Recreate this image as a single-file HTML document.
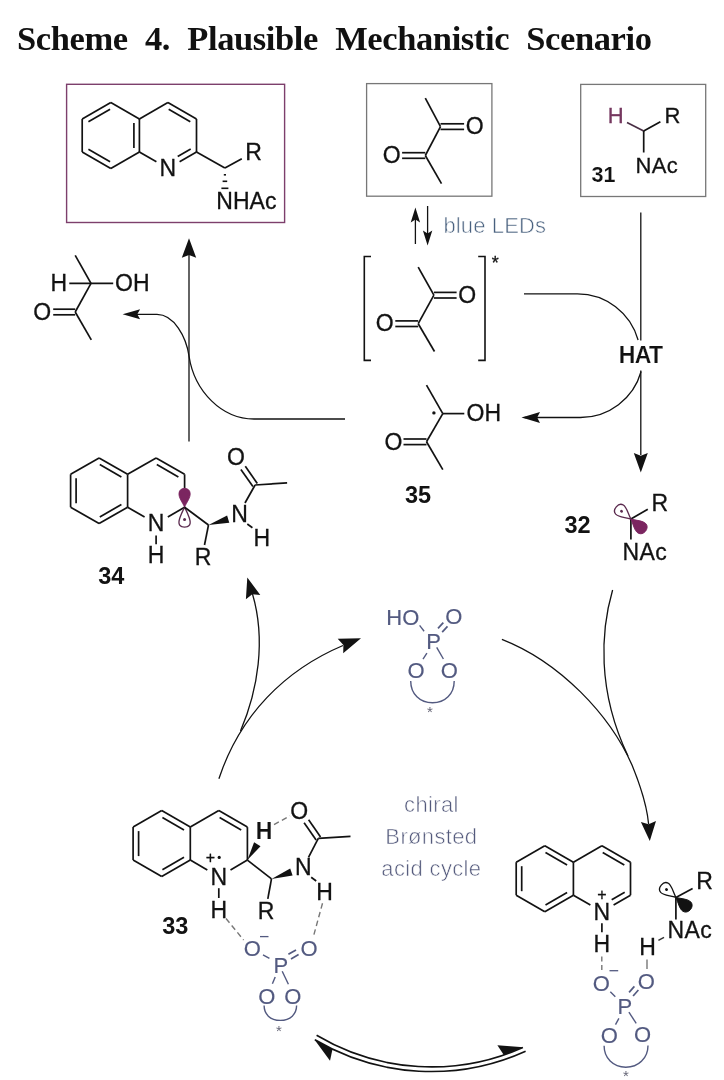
<!DOCTYPE html>
<html><head><meta charset="utf-8"><title>Scheme 4</title>
<style>html,body{margin:0;padding:0;background:#fff}svg{display:block}</style>
</head><body>
<svg width="724" height="1080" viewBox="0 0 724 1080">
<rect width="724" height="1080" fill="#fff"/>
<g opacity="0.999">
<text x="17" y="49.5" font-family="Liberation Serif, serif" font-weight="bold" font-size="34.5" fill="#111" word-spacing="9" textLength="635" lengthAdjust="spacing">Scheme 4. Plausible Mechanistic Scenario</text>
<rect x="66.6" y="84.3" width="218" height="138.2" fill="none" stroke="#7d3f6c" stroke-width="1.4"/>
<rect x="366.6" y="83.6" width="125.3" height="112.6" fill="none" stroke="#777" stroke-width="1.3"/>
<rect x="580.7" y="84.4" width="125" height="112.1" fill="none" stroke="#777" stroke-width="1.3"/>
<line x1="82.2" y1="119.0" x2="110.8" y2="102.5" stroke="#121212" stroke-width="1.7" />
<line x1="110.8" y1="102.5" x2="139.4" y2="119.0" stroke="#121212" stroke-width="1.7" />
<line x1="139.4" y1="119.0" x2="139.4" y2="152.0" stroke="#121212" stroke-width="1.7" />
<line x1="139.4" y1="152.0" x2="110.8" y2="168.5" stroke="#121212" stroke-width="1.7" />
<line x1="110.8" y1="168.5" x2="82.2" y2="152.0" stroke="#121212" stroke-width="1.7" />
<line x1="82.2" y1="152.0" x2="82.2" y2="119.0" stroke="#121212" stroke-width="1.7" />
<line x1="139.4" y1="119.0" x2="167.9" y2="102.5" stroke="#121212" stroke-width="1.7" />
<line x1="167.9" y1="102.5" x2="196.5" y2="119.0" stroke="#121212" stroke-width="1.7" />
<line x1="196.5" y1="119.0" x2="196.5" y2="152.0" stroke="#121212" stroke-width="1.7" />
<line x1="139.4" y1="152.0" x2="156.4" y2="161.8" stroke="#121212" stroke-width="1.7" />
<line x1="196.5" y1="152.0" x2="179.6" y2="161.8" stroke="#121212" stroke-width="1.7" />
<line x1="88.4" y1="121.8" x2="110.1" y2="109.3" stroke="#121212" stroke-width="1.7" />
<line x1="133.9" y1="123.0" x2="133.9" y2="148.0" stroke="#121212" stroke-width="1.7" />
<line x1="88.4" y1="149.2" x2="110.1" y2="161.7" stroke="#121212" stroke-width="1.7" />
<line x1="168.7" y1="109.3" x2="190.3" y2="121.8" stroke="#121212" stroke-width="1.7" />
<line x1="190.7" y1="149.0" x2="177.7" y2="156.5" stroke="#121212" stroke-width="1.7" />
<text x="167.9" y="176.1" font-family="Liberation Sans, sans-serif" font-size="23" fill="#121212" text-anchor="middle" font-weight="normal"  stroke="#121212" stroke-width="0.3">N</text>
<line x1="196.5" y1="152.0" x2="224.9" y2="168.1" stroke="#121212" stroke-width="1.7" />
<line x1="224.9" y1="168.1" x2="241.8" y2="158.7" stroke="#121212" stroke-width="1.7" />
<text x="253.6" y="160.0" font-family="Liberation Sans, sans-serif" font-size="23" fill="#121212" text-anchor="middle" font-weight="normal"  stroke="#121212" stroke-width="0.3">R</text>
<line x1="223.8" y1="174.8" x2="226.0" y2="174.8" stroke="#121212" stroke-width="1.6" />
<line x1="222.6" y1="181.3" x2="227.2" y2="181.3" stroke="#121212" stroke-width="1.6" />
<line x1="221.4" y1="188.3" x2="228.4" y2="188.3" stroke="#121212" stroke-width="1.6" />
<text x="216.2" y="209.1" font-family="Liberation Sans, sans-serif" font-size="23" fill="#121212" text-anchor="start" font-weight="normal" letter-spacing="0.1" stroke="#121212" stroke-width="0.3">NHAc</text>
<line x1="425.3" y1="98.2" x2="440.5" y2="126.6" stroke="#121212" stroke-width="1.7" />
<line x1="440.5" y1="126.6" x2="425.3" y2="155.5" stroke="#121212" stroke-width="1.7" />
<line x1="425.3" y1="155.5" x2="441.5" y2="183.6" stroke="#121212" stroke-width="1.7" />
<line x1="440.5" y1="129.4" x2="464.1" y2="129.4" stroke="#121212" stroke-width="1.7" />
<line x1="440.5" y1="123.8" x2="464.1" y2="123.8" stroke="#121212" stroke-width="1.7" />
<line x1="402.1" y1="158.3" x2="425.3" y2="158.3" stroke="#121212" stroke-width="1.7" />
<line x1="402.1" y1="152.7" x2="425.3" y2="152.7" stroke="#121212" stroke-width="1.7" />
<text x="474.6" y="134.2" font-family="Liberation Sans, sans-serif" font-size="23" fill="#121212" text-anchor="middle" font-weight="normal"  stroke="#121212" stroke-width="0.3">O</text>
<text x="391.6" y="163.1" font-family="Liberation Sans, sans-serif" font-size="23" fill="#121212" text-anchor="middle" font-weight="normal"  stroke="#121212" stroke-width="0.3">O</text>
<line x1="418.2" y1="267.1" x2="433.9" y2="295.2" stroke="#121212" stroke-width="1.7" />
<line x1="433.9" y1="295.2" x2="418.2" y2="323.7" stroke="#121212" stroke-width="1.7" />
<line x1="418.2" y1="323.7" x2="434.5" y2="351.5" stroke="#121212" stroke-width="1.7" />
<line x1="433.9" y1="298.0" x2="456.6" y2="298.0" stroke="#121212" stroke-width="1.7" />
<line x1="433.9" y1="292.4" x2="456.6" y2="292.4" stroke="#121212" stroke-width="1.7" />
<line x1="395.3" y1="326.5" x2="418.2" y2="326.5" stroke="#121212" stroke-width="1.7" />
<line x1="395.3" y1="320.9" x2="418.2" y2="320.9" stroke="#121212" stroke-width="1.7" />
<text x="467.1" y="302.8" font-family="Liberation Sans, sans-serif" font-size="23" fill="#121212" text-anchor="middle" font-weight="normal"  stroke="#121212" stroke-width="0.3">O</text>
<text x="384.8" y="331.3" font-family="Liberation Sans, sans-serif" font-size="23" fill="#121212" text-anchor="middle" font-weight="normal"  stroke="#121212" stroke-width="0.3">O</text>
<path d="M371,256.5 L364.3,256.5 L364.3,360.4 L371,360.4" stroke="#121212" stroke-width="1.6" fill="none" />
<path d="M478.2,256.5 L485,256.5 L485,360.4 L478.2,360.4" stroke="#121212" stroke-width="1.6" fill="none" />
<text x="495.2" y="269.0" font-family="Liberation Sans, sans-serif" font-size="18" fill="#121212" text-anchor="middle" font-weight="normal"  stroke="#121212" stroke-width="0.3">*</text>
<line x1="415.4" y1="244.0" x2="415.4" y2="212.0" stroke="#121212" stroke-width="1.3" />
<polygon points="415.4,207.4 420.1,222.4 415.4,219.4 410.7,222.4" fill="#121212"/>
<line x1="427.6" y1="206.0" x2="427.6" y2="240.0" stroke="#121212" stroke-width="1.3" />
<polygon points="427.6,245.4 422.9,230.4 427.6,233.4 432.3,230.4" fill="#121212"/>
<text x="443.4" y="232.7" font-family="Liberation Sans, sans-serif" font-size="22" fill="#48607e" text-anchor="start" font-weight="normal" letter-spacing="0.15" stroke="#fff" stroke-width="0.6">blue LEDs</text>
<line x1="643.7" y1="131.0" x2="627.0" y2="122.6" stroke="#4a2f45" stroke-width="1.7" />
<line x1="643.7" y1="131.0" x2="660.4" y2="121.8" stroke="#121212" stroke-width="1.7" />
<line x1="643.7" y1="131.0" x2="643.7" y2="152.5" stroke="#121212" stroke-width="1.7" />
<text x="615.6" y="122.9" font-family="Liberation Sans, sans-serif" font-size="22" fill="#75375f" text-anchor="middle" font-weight="normal"  stroke="#75375f" stroke-width="0.3">H</text>
<text x="672.5" y="122.9" font-family="Liberation Sans, sans-serif" font-size="22" fill="#121212" text-anchor="middle" font-weight="normal"  stroke="#121212" stroke-width="0.3">R</text>
<text x="635.4" y="172.5" font-family="Liberation Sans, sans-serif" font-size="22" fill="#121212" text-anchor="start" font-weight="normal" letter-spacing="0.4" stroke="#121212" stroke-width="0.3">NAc</text>
<text x="591.5" y="182.2" font-family="Liberation Sans, sans-serif" font-size="21.5" fill="#121212" text-anchor="start" font-weight="bold" stroke="#fff" stroke-width="0.12">31</text>
<line x1="640.8" y1="212.4" x2="640.8" y2="340.6" stroke="#121212" stroke-width="1.3" />
<line x1="640.8" y1="370.5" x2="640.8" y2="455.0" stroke="#121212" stroke-width="1.3" />
<polygon points="640.8,472.4 633.8,452.9 640.8,455.7 647.8,452.9" fill="#121212"/>
<text x="640.6" y="363.3" font-family="Liberation Sans, sans-serif" font-size="23" fill="#121212" text-anchor="middle" font-weight="bold" letter-spacing="-0.6" stroke="#fff" stroke-width="0.15">HAT</text>
<path d="M524.0,293.8 L577.4,293.8 A63,63 0 0 1 638.1,340" stroke="#121212" stroke-width="1.3" fill="none" />
<path d="M641.1,371.5 A63,63 0 0 1 580.4,417.5 L535,417.5" stroke="#121212" stroke-width="1.3" fill="none" />
<polygon points="521.5,417.5 540.0,412.0 537.2,417.5 540.0,423.0" fill="#121212"/>
<line x1="426.5" y1="385.2" x2="442.8" y2="413.6" stroke="#121212" stroke-width="1.7" />
<line x1="442.8" y1="413.6" x2="426.5" y2="441.8" stroke="#121212" stroke-width="1.7" />
<line x1="426.5" y1="441.8" x2="442.8" y2="469.6" stroke="#121212" stroke-width="1.7" />
<line x1="442.8" y1="413.6" x2="464.3" y2="413.6" stroke="#121212" stroke-width="1.7" />
<line x1="403.5" y1="444.6" x2="426.5" y2="444.6" stroke="#121212" stroke-width="1.7" />
<line x1="403.5" y1="439.0" x2="426.5" y2="439.0" stroke="#121212" stroke-width="1.7" />
<text x="393.5" y="449.7" font-family="Liberation Sans, sans-serif" font-size="23" fill="#121212" text-anchor="middle" font-weight="normal"  stroke="#121212" stroke-width="0.3">O</text>
<text x="466.6" y="421.3" font-family="Liberation Sans, sans-serif" font-size="23" fill="#121212" text-anchor="start" font-weight="normal"  stroke="#121212" stroke-width="0.3">OH</text>
<circle cx="433.9" cy="412.9" r="1.7" fill="#121212"/>
<text x="418.0" y="502.5" font-family="Liberation Sans, sans-serif" font-size="23.5" fill="#121212" text-anchor="middle" font-weight="bold" >35</text>
<line x1="75.2" y1="255.4" x2="91.0" y2="283.3" stroke="#121212" stroke-width="1.7" />
<line x1="91.0" y1="283.3" x2="75.2" y2="312.0" stroke="#121212" stroke-width="1.7" />
<line x1="75.2" y1="312.0" x2="91.3" y2="339.9" stroke="#121212" stroke-width="1.7" />
<line x1="69.3" y1="283.3" x2="113.2" y2="283.3" stroke="#121212" stroke-width="1.7" />
<line x1="53.2" y1="314.8" x2="75.2" y2="314.8" stroke="#121212" stroke-width="1.7" />
<line x1="53.2" y1="309.2" x2="75.2" y2="309.2" stroke="#121212" stroke-width="1.7" />
<text x="58.7" y="291.0" font-family="Liberation Sans, sans-serif" font-size="23" fill="#121212" text-anchor="middle" font-weight="normal"  stroke="#121212" stroke-width="0.3">H</text>
<text x="115.0" y="291.0" font-family="Liberation Sans, sans-serif" font-size="23" fill="#121212" text-anchor="start" font-weight="normal"  stroke="#121212" stroke-width="0.3">OH</text>
<text x="42.2" y="319.6" font-family="Liberation Sans, sans-serif" font-size="23" fill="#121212" text-anchor="middle" font-weight="normal"  stroke="#121212" stroke-width="0.3">O</text>
<line x1="189.0" y1="441.5" x2="189.0" y2="252.0" stroke="#121212" stroke-width="1.3" />
<polygon points="189.0,238.3 196.2,257.8 189.0,255.0 181.8,257.8" fill="#121212"/>
<path d="M345,419 L254,419 C222,419 194.4,391.6 189,356 C186.3,337 174,314.3 157,314.3 L136,314.3" stroke="#121212" stroke-width="1.3" fill="none" />
<polygon points="122.6,314.3 140.1,309.3 137.3,314.3 140.1,319.3" fill="#121212"/>
<line x1="70.6" y1="474.3" x2="99.1" y2="457.9" stroke="#121212" stroke-width="1.7" />
<line x1="99.1" y1="457.9" x2="127.6" y2="474.3" stroke="#121212" stroke-width="1.7" />
<line x1="127.6" y1="474.3" x2="127.6" y2="507.2" stroke="#121212" stroke-width="1.7" />
<line x1="127.6" y1="507.2" x2="99.1" y2="523.6" stroke="#121212" stroke-width="1.7" />
<line x1="99.1" y1="523.6" x2="70.6" y2="507.2" stroke="#121212" stroke-width="1.7" />
<line x1="70.6" y1="507.2" x2="70.6" y2="474.3" stroke="#121212" stroke-width="1.7" />
<line x1="127.6" y1="474.3" x2="156.1" y2="457.9" stroke="#121212" stroke-width="1.7" />
<line x1="156.1" y1="457.9" x2="184.6" y2="474.3" stroke="#121212" stroke-width="1.7" />
<line x1="127.6" y1="507.2" x2="144.6" y2="517.0" stroke="#121212" stroke-width="1.7" />
<line x1="184.6" y1="507.2" x2="167.8" y2="516.9" stroke="#121212" stroke-width="1.7" />
<line x1="76.1" y1="478.3" x2="76.1" y2="503.2" stroke="#121212" stroke-width="1.7" />
<line x1="99.8" y1="464.6" x2="121.4" y2="477.1" stroke="#121212" stroke-width="1.7" />
<line x1="121.4" y1="504.4" x2="99.8" y2="516.9" stroke="#121212" stroke-width="1.7" />
<line x1="156.8" y1="464.6" x2="178.4" y2="477.1" stroke="#121212" stroke-width="1.7" />
<line x1="184.6" y1="474.3" x2="184.6" y2="488.3" stroke="#121212" stroke-width="1.7" />
<text x="156.1" y="530.9" font-family="Liberation Sans, sans-serif" font-size="23" fill="#121212" text-anchor="middle" font-weight="normal"  stroke="#121212" stroke-width="0.3">N</text>
<line x1="156.1" y1="535.4" x2="156.1" y2="544.2" stroke="#121212" stroke-width="1.7" />
<text x="156.1" y="563.2" font-family="Liberation Sans, sans-serif" font-size="23" fill="#121212" text-anchor="middle" font-weight="normal"  stroke="#121212" stroke-width="0.3">H</text>
<path d="M184.56894313803213,507.2 C182.56894313803213,502.2 178.56894313803213,498.2 178.96894313803213,493.2 C179.36894313803214,486.7 189.7689431380321,486.7 190.16894313803212,493.2 C190.56894313803213,498.2 186.56894313803213,502.2 184.56894313803213,507.2 Z" stroke="#7b2560" stroke-width="0.8" fill="#7b2560" />
<path d="M184.56894313803213,507.2 C181.06894313803213,514.2 178.36894313803214,519.2 178.96894313803213,523.2 C179.66894313803212,528.4 189.46894313803213,528.4 190.16894313803212,523.2 C190.7689431380321,519.2 188.06894313803213,514.2 184.56894313803213,507.2 Z" stroke="#5a2a4e" stroke-width="1.3" fill="none" />
<circle cx="184.56894313803213" cy="519.5" r="1.5" fill="#5a2a4e"/>
<line x1="184.6" y1="507.2" x2="208.5" y2="525.0" stroke="#121212" stroke-width="1.7" />
<polygon points="208.5,525.0 229.3,522.8 227.1,515.6" fill="#121212"/>
<line x1="208.5" y1="525.0" x2="204.5" y2="545.0" stroke="#121212" stroke-width="1.7" />
<text x="203.0" y="565.0" font-family="Liberation Sans, sans-serif" font-size="23" fill="#121212" text-anchor="middle" font-weight="normal"  stroke="#121212" stroke-width="0.3">R</text>
<text x="239.6" y="521.8" font-family="Liberation Sans, sans-serif" font-size="23" fill="#121212" text-anchor="middle" font-weight="normal"  stroke="#121212" stroke-width="0.3">N</text>
<line x1="245.0" y1="503.0" x2="255.1" y2="485.0" stroke="#121212" stroke-width="1.7" />
<line x1="255.1" y1="485.0" x2="287.1" y2="482.9" stroke="#121212" stroke-width="1.7" />
<line x1="257.3" y1="483.5" x2="245.3" y2="466.3" stroke="#121212" stroke-width="1.7" />
<line x1="252.9" y1="486.5" x2="240.9" y2="469.4" stroke="#121212" stroke-width="1.7" />
<text x="236.0" y="465.3" font-family="Liberation Sans, sans-serif" font-size="23" fill="#121212" text-anchor="middle" font-weight="normal"  stroke="#121212" stroke-width="0.3">O</text>
<line x1="247.3" y1="524.0" x2="252.4" y2="527.8" stroke="#121212" stroke-width="1.7" />
<text x="261.7" y="546.2" font-family="Liberation Sans, sans-serif" font-size="23" fill="#121212" text-anchor="middle" font-weight="normal"  stroke="#121212" stroke-width="0.3">H</text>
<text x="111.2" y="583.7" font-family="Liberation Sans, sans-serif" font-size="23.5" fill="#121212" text-anchor="middle" font-weight="bold" >34</text>
<line x1="630.9" y1="519.1" x2="647.8" y2="509.2" stroke="#121212" stroke-width="1.7" />
<line x1="630.9" y1="519.1" x2="630.9" y2="539.6" stroke="#121212" stroke-width="1.7" />
<text x="659.7" y="510.7" font-family="Liberation Sans, sans-serif" font-size="23" fill="#121212" text-anchor="middle" font-weight="normal"  stroke="#121212" stroke-width="0.3">R</text>
<text x="622.5" y="559.8" font-family="Liberation Sans, sans-serif" font-size="23" fill="#121212" text-anchor="start" font-weight="normal" letter-spacing="0.4" stroke="#121212" stroke-width="0.3">NAc</text>
<text x="577.6" y="533.2" font-family="Liberation Sans, sans-serif" font-size="23.5" fill="#121212" text-anchor="middle" font-weight="bold" >32</text>
<g transform="translate(630.9,519.1) rotate(-50)">
<g transform="scale(0.9)">
<path d="M0,0 C-3,-7 -7.2,-12 -6.6,-16.5 C-5.6,-22.8 5.6,-22.8 6.6,-16.5 C7.2,-12 3,-7 0,0 Z" stroke="#5a2a4e" stroke-width="1.45" fill="none" />
<circle cx="0" cy="-13.6" r="1.6" fill="#5a2a4e"/>
</g>
<g transform="scale(0.9)">
<path d="M0,0 C-2.5,5.5 -7.4,11 -6.8,16 C-5.8,22.8 5.8,22.8 6.8,16 C7.4,11 2.5,5.5 0,0 Z" stroke="#7b2560" stroke-width="1" fill="#7b2560" />
</g></g>
<path d="M501.9,639.3 C560,662 610,715 632,765 C641,787 647,806 648.6,824" stroke="#121212" stroke-width="1.3" fill="none" />
<polygon points="649.8,841.0 640.9,822.1 648.6,824.3 656.0,821.0" fill="#121212"/>
<path d="M612.6,590 C601,630 596.5,690 628,756" stroke="#121212" stroke-width="1.3" fill="none" />
<path d="M218.9,778.8 C240,715 285,670 343,645.5" stroke="#121212" stroke-width="1.3" fill="none" />
<polygon points="361.0,638.2 343.2,653.3 343.4,644.9 337.7,638.8" fill="#121212"/>
<path d="M240.5,731 C258,690 266,640 252.5,594" stroke="#121212" stroke-width="1.3" fill="none" />
<polygon points="247.3,577.4 260.3,594.9 252.3,594.2 245.9,599.2" fill="#121212"/>
<path d="M316.6,1035.3 A224.4,224.4 0 0 0 522.9,1047.4" stroke="#121212" stroke-width="1.6" fill="none" />
<path d="M314.9,1039.8 A229.1,229.1 0 0 0 525.6,1051.2" stroke="#121212" stroke-width="1.6" fill="none" />
<polygon points="497.4,1045.2 523.4,1047.2 503.8,1055.0" fill="#121212"/>
<polygon points="314.4,1039.4 332.5,1049.2 330.0,1060.8" fill="#121212"/>
<text x="433.7" y="648.9" font-family="Liberation Sans, sans-serif" font-size="22" fill="#535a80" text-anchor="middle" font-weight="normal"  stroke="#535a80" stroke-width="0.15">P</text>
<text x="416.1" y="677.9" font-family="Liberation Sans, sans-serif" font-size="22" fill="#535a80" text-anchor="middle" font-weight="normal"  stroke="#535a80" stroke-width="0.15">O</text>
<text x="449.3" y="677.9" font-family="Liberation Sans, sans-serif" font-size="22" fill="#535a80" text-anchor="middle" font-weight="normal"  stroke="#535a80" stroke-width="0.15">O</text>
<text x="453.8" y="623.7" font-family="Liberation Sans, sans-serif" font-size="22" fill="#535a80" text-anchor="middle" font-weight="normal"  stroke="#535a80" stroke-width="0.15">O</text>
<text x="419.3" y="624.6" font-family="Liberation Sans, sans-serif" font-size="22" fill="#535a80" text-anchor="end" font-weight="normal"  stroke="#535a80" stroke-width="0.15">HO</text>
<path d="M410.7,680.9 C410.7,694 420,702.7 432.5,702.7 C445,702.7 454.2,694 454.2,680.9" stroke="#535a80" stroke-width="1.4" fill="none" />
<text x="430.0" y="717.1" font-family="Liberation Sans, sans-serif" font-size="15" fill="#667" text-anchor="middle" font-weight="normal" >*</text>
<line x1="419.6" y1="625.4" x2="424.1" y2="631.2" stroke="#535a80" stroke-width="1.4" />
<line x1="442.2" y1="632.1" x2="447.5" y2="626.4" stroke="#535a80" stroke-width="1.7" />
<line x1="438.0" y1="628.3" x2="443.3" y2="622.6" stroke="#535a80" stroke-width="1.7" />
<line x1="426.9" y1="653.2" x2="423.0" y2="659.2" stroke="#535a80" stroke-width="1.4" />
<line x1="436.7" y1="647.4" x2="443.4" y2="659.0" stroke="#535a80" stroke-width="1.4" />
<line x1="133.1" y1="827.1" x2="161.7" y2="810.6" stroke="#121212" stroke-width="1.7" />
<line x1="161.7" y1="810.6" x2="190.3" y2="827.1" stroke="#121212" stroke-width="1.7" />
<line x1="190.3" y1="827.1" x2="190.3" y2="860.1" stroke="#121212" stroke-width="1.7" />
<line x1="190.3" y1="860.1" x2="161.7" y2="876.6" stroke="#121212" stroke-width="1.7" />
<line x1="161.7" y1="876.6" x2="133.1" y2="860.1" stroke="#121212" stroke-width="1.7" />
<line x1="133.1" y1="860.1" x2="133.1" y2="827.1" stroke="#121212" stroke-width="1.7" />
<line x1="190.3" y1="827.1" x2="218.8" y2="810.6" stroke="#121212" stroke-width="1.7" />
<line x1="218.8" y1="810.6" x2="247.4" y2="827.1" stroke="#121212" stroke-width="1.7" />
<line x1="247.4" y1="827.1" x2="247.4" y2="860.1" stroke="#121212" stroke-width="1.7" />
<line x1="190.3" y1="860.1" x2="207.3" y2="870.0" stroke="#121212" stroke-width="1.7" />
<line x1="247.4" y1="860.1" x2="230.5" y2="869.9" stroke="#121212" stroke-width="1.7" />
<line x1="138.6" y1="831.1" x2="138.6" y2="856.1" stroke="#121212" stroke-width="1.7" />
<line x1="162.4" y1="817.4" x2="184.0" y2="829.9" stroke="#121212" stroke-width="1.7" />
<line x1="184.0" y1="857.3" x2="162.4" y2="869.8" stroke="#121212" stroke-width="1.7" />
<line x1="219.6" y1="817.4" x2="241.2" y2="829.9" stroke="#121212" stroke-width="1.7" />
<text x="218.8" y="884.6" font-family="Liberation Sans, sans-serif" font-size="23" fill="#121212" text-anchor="middle" font-weight="normal"  stroke="#121212" stroke-width="0.3">N</text>
<line x1="218.8" y1="888.2" x2="218.8" y2="898.0" stroke="#121212" stroke-width="1.7" />
<text x="218.8" y="917.6" font-family="Liberation Sans, sans-serif" font-size="23" fill="#121212" text-anchor="middle" font-weight="normal"  stroke="#121212" stroke-width="0.3">H</text>
<text x="210.3" y="862.6" font-family="Liberation Sans, sans-serif" font-size="16" fill="#121212" text-anchor="middle" font-weight="normal"  stroke="#121212" stroke-width="0.3">+</text>
<circle cx="219.2" cy="857.4" r="1.6" fill="#121212"/>
<polygon points="247.4,860.1 260.5,846.2 254.1,842.2" fill="#121212"/>
<text x="264.0" y="839.4" font-family="Liberation Sans, sans-serif" font-size="23" fill="#121212" text-anchor="middle" font-weight="bold" stroke="#fff" stroke-width="0.1">H</text>
<line x1="247.4" y1="860.1" x2="271.5" y2="878.9" stroke="#121212" stroke-width="1.7" />
<polygon points="271.5,878.9 292.6,875.6 290.2,868.6" fill="#121212"/>
<line x1="271.5" y1="878.9" x2="267.8" y2="898.8" stroke="#121212" stroke-width="1.7" />
<text x="266.0" y="919.1" font-family="Liberation Sans, sans-serif" font-size="23" fill="#121212" text-anchor="middle" font-weight="normal"  stroke="#121212" stroke-width="0.3">R</text>
<text x="303.3" y="875.3" font-family="Liberation Sans, sans-serif" font-size="23" fill="#121212" text-anchor="middle" font-weight="normal"  stroke="#121212" stroke-width="0.3">N</text>
<line x1="308.5" y1="857.4" x2="318.3" y2="838.4" stroke="#121212" stroke-width="1.7" />
<line x1="318.3" y1="838.4" x2="350.5" y2="836.4" stroke="#121212" stroke-width="1.7" />
<line x1="320.5" y1="836.9" x2="308.6" y2="819.7" stroke="#121212" stroke-width="1.7" />
<line x1="316.1" y1="839.9" x2="304.1" y2="822.8" stroke="#121212" stroke-width="1.7" />
<text x="299.3" y="818.7" font-family="Liberation Sans, sans-serif" font-size="23" fill="#121212" text-anchor="middle" font-weight="normal"  stroke="#121212" stroke-width="0.3">O</text>
<line x1="311.2" y1="877.3" x2="316.2" y2="881.0" stroke="#121212" stroke-width="1.7" />
<text x="324.6" y="899.9" font-family="Liberation Sans, sans-serif" font-size="23" fill="#121212" text-anchor="middle" font-weight="normal"  stroke="#121212" stroke-width="0.3">H</text>
<text x="175.3" y="933.8" font-family="Liberation Sans, sans-serif" font-size="23.5" fill="#121212" text-anchor="middle" font-weight="bold" >33</text>
<line x1="274.0" y1="824.6" x2="290.0" y2="815.8" stroke="#777" stroke-width="1.4" stroke-dasharray="5.5,3.5"/>
<line x1="226.0" y1="918.5" x2="243.6" y2="940.0" stroke="#777" stroke-width="1.4" stroke-dasharray="5.5,3.5"/>
<line x1="322.5" y1="903.3" x2="313.0" y2="938.0" stroke="#777" stroke-width="1.4" stroke-dasharray="5.5,3.5"/>
<text x="280.9" y="973.1" font-family="Liberation Sans, sans-serif" font-size="22" fill="#535a80" text-anchor="middle" font-weight="normal"  stroke="#535a80" stroke-width="0.15">P</text>
<text x="266.7" y="1004.4" font-family="Liberation Sans, sans-serif" font-size="22" fill="#535a80" text-anchor="middle" font-weight="normal"  stroke="#535a80" stroke-width="0.15">O</text>
<text x="292.8" y="1004.4" font-family="Liberation Sans, sans-serif" font-size="22" fill="#535a80" text-anchor="middle" font-weight="normal"  stroke="#535a80" stroke-width="0.15">O</text>
<text x="309.0" y="956.2" font-family="Liberation Sans, sans-serif" font-size="22" fill="#535a80" text-anchor="middle" font-weight="normal"  stroke="#535a80" stroke-width="0.15">O</text>
<text x="252.4" y="956.2" font-family="Liberation Sans, sans-serif" font-size="22" fill="#535a80" text-anchor="middle" font-weight="normal"  stroke="#535a80" stroke-width="0.15">O</text>
<path d="M264.1,1005.6 C264.1,1014 270,1020.4 280.3,1020.4 C290.5,1020.4 296.6,1014 296.6,1005.6" stroke="#535a80" stroke-width="1.4" fill="none" />
<text x="278.9" y="1036.0" font-family="Liberation Sans, sans-serif" font-size="15" fill="#667" text-anchor="middle" font-weight="normal" >*</text>
<line x1="260.0" y1="936.6" x2="268.5" y2="936.6" stroke="#535a80" stroke-width="1.3" />
<line x1="263.0" y1="954.8" x2="269.4" y2="958.4" stroke="#535a80" stroke-width="1.4" />
<line x1="291.0" y1="958.9" x2="298.6" y2="954.5" stroke="#535a80" stroke-width="1.7" />
<line x1="288.4" y1="954.3" x2="296.0" y2="949.9" stroke="#535a80" stroke-width="1.7" />
<line x1="275.2" y1="977.0" x2="272.4" y2="983.8" stroke="#535a80" stroke-width="1.4" />
<line x1="282.2" y1="971.2" x2="288.4" y2="984.2" stroke="#535a80" stroke-width="1.4" />
<text x="431.4" y="811.9" font-family="Liberation Sans, sans-serif" font-size="22" fill="#545a7c" text-anchor="middle" font-weight="normal" letter-spacing="0.35" stroke="#fff" stroke-width="0.6">chiral</text>
<text x="431.4" y="843.8" font-family="Liberation Sans, sans-serif" font-size="22" fill="#545a7c" text-anchor="middle" font-weight="normal" letter-spacing="0.35" stroke="#fff" stroke-width="0.6">Brønsted</text>
<text x="431.4" y="875.7" font-family="Liberation Sans, sans-serif" font-size="22" fill="#545a7c" text-anchor="middle" font-weight="normal" letter-spacing="0.35" stroke="#fff" stroke-width="0.6">acid cycle</text>
<line x1="516.2" y1="862.2" x2="544.8" y2="845.7" stroke="#121212" stroke-width="1.7" />
<line x1="544.8" y1="845.7" x2="573.4" y2="862.2" stroke="#121212" stroke-width="1.7" />
<line x1="573.4" y1="862.2" x2="573.4" y2="895.2" stroke="#121212" stroke-width="1.7" />
<line x1="573.4" y1="895.2" x2="544.8" y2="911.7" stroke="#121212" stroke-width="1.7" />
<line x1="544.8" y1="911.7" x2="516.2" y2="895.2" stroke="#121212" stroke-width="1.7" />
<line x1="516.2" y1="895.2" x2="516.2" y2="862.2" stroke="#121212" stroke-width="1.7" />
<line x1="573.4" y1="862.2" x2="601.9" y2="845.7" stroke="#121212" stroke-width="1.7" />
<line x1="601.9" y1="845.7" x2="630.5" y2="862.2" stroke="#121212" stroke-width="1.7" />
<line x1="630.5" y1="862.2" x2="630.5" y2="895.2" stroke="#121212" stroke-width="1.7" />
<line x1="573.4" y1="895.2" x2="590.4" y2="905.1" stroke="#121212" stroke-width="1.7" />
<line x1="630.5" y1="895.2" x2="613.6" y2="905.0" stroke="#121212" stroke-width="1.7" />
<line x1="521.7" y1="866.2" x2="521.7" y2="891.2" stroke="#121212" stroke-width="1.7" />
<line x1="545.5" y1="852.5" x2="567.1" y2="865.0" stroke="#121212" stroke-width="1.7" />
<line x1="567.1" y1="892.4" x2="545.5" y2="904.9" stroke="#121212" stroke-width="1.7" />
<line x1="602.7" y1="852.5" x2="624.3" y2="865.0" stroke="#121212" stroke-width="1.7" />
<line x1="624.7" y1="892.2" x2="611.7" y2="899.7" stroke="#121212" stroke-width="1.7" />
<text x="601.9" y="919.5" font-family="Liberation Sans, sans-serif" font-size="23" fill="#121212" text-anchor="middle" font-weight="normal"  stroke="#121212" stroke-width="0.3">N</text>
<line x1="601.9" y1="923.2" x2="601.9" y2="932.2" stroke="#121212" stroke-width="1.7" />
<text x="601.9" y="951.9" font-family="Liberation Sans, sans-serif" font-size="23" fill="#121212" text-anchor="middle" font-weight="normal"  stroke="#121212" stroke-width="0.3">H</text>
<text x="601.9" y="899.8" font-family="Liberation Sans, sans-serif" font-size="16" fill="#121212" text-anchor="middle" font-weight="normal"  stroke="#121212" stroke-width="0.3">+</text>
<line x1="601.8" y1="956.5" x2="601.8" y2="970.5" stroke="#777" stroke-width="1.4" stroke-dasharray="5,3.5"/>
<line x1="675.9" y1="897.4" x2="692.6" y2="888.6" stroke="#121212" stroke-width="1.7" />
<line x1="675.9" y1="897.4" x2="675.9" y2="919.6" stroke="#121212" stroke-width="1.7" />
<text x="704.6" y="888.9" font-family="Liberation Sans, sans-serif" font-size="23" fill="#121212" text-anchor="middle" font-weight="normal"  stroke="#121212" stroke-width="0.3">R</text>
<text x="667.4" y="938.4" font-family="Liberation Sans, sans-serif" font-size="23" fill="#121212" text-anchor="start" font-weight="normal" letter-spacing="0.4" stroke="#121212" stroke-width="0.3">NAc</text>
<g transform="translate(675.9,897.4) rotate(-50)">
<g transform="scale(0.9)">
<path d="M0,0 C-3,-7 -7.2,-12 -6.6,-16.5 C-5.6,-22.8 5.6,-22.8 6.6,-16.5 C7.2,-12 3,-7 0,0 Z" stroke="#121212" stroke-width="1.45" fill="none" />
<circle cx="0" cy="-13.6" r="1.6" fill="#121212"/>
</g>
<g transform="scale(0.9)">
<path d="M0,0 C-2.5,5.5 -7.4,11 -6.8,16 C-5.8,22.8 5.8,22.8 6.8,16 C7.4,11 2.5,5.5 0,0 Z" stroke="#121212" stroke-width="1" fill="#121212" />
</g></g>
<text x="647.6" y="954.5" font-family="Liberation Sans, sans-serif" font-size="23" fill="#121212" text-anchor="middle" font-weight="normal"  stroke="#121212" stroke-width="0.3">H</text>
<line x1="658.4" y1="940.4" x2="664.0" y2="937.4" stroke="#333" stroke-width="1.5" />
<line x1="647.0" y1="959.5" x2="647.0" y2="969.0" stroke="#777" stroke-width="1.4" />
<text x="624.8" y="1014.4" font-family="Liberation Sans, sans-serif" font-size="22" fill="#535a80" text-anchor="middle" font-weight="normal"  stroke="#535a80" stroke-width="0.15">P</text>
<text x="609.3" y="1043.3" font-family="Liberation Sans, sans-serif" font-size="22" fill="#535a80" text-anchor="middle" font-weight="normal"  stroke="#535a80" stroke-width="0.15">O</text>
<text x="642.6" y="1042.4" font-family="Liberation Sans, sans-serif" font-size="22" fill="#535a80" text-anchor="middle" font-weight="normal"  stroke="#535a80" stroke-width="0.15">O</text>
<text x="646.4" y="989.2" font-family="Liberation Sans, sans-serif" font-size="22" fill="#535a80" text-anchor="middle" font-weight="normal"  stroke="#535a80" stroke-width="0.15">O</text>
<text x="601.2" y="991.1" font-family="Liberation Sans, sans-serif" font-size="22" fill="#535a80" text-anchor="middle" font-weight="normal"  stroke="#535a80" stroke-width="0.15">O</text>
<path d="M604.1,1045.8 C604.1,1058 613,1067.2 625.8,1067.2 C638.5,1067.2 648,1058 648,1045.4" stroke="#535a80" stroke-width="1.4" fill="none" />
<text x="625.8" y="1081.2" font-family="Liberation Sans, sans-serif" font-size="15" fill="#667" text-anchor="middle" font-weight="normal" >*</text>
<line x1="609.5" y1="970.7" x2="618.2" y2="970.7" stroke="#535a80" stroke-width="1.3" />
<line x1="610.3" y1="991.7" x2="615.3" y2="996.8" stroke="#535a80" stroke-width="1.4" />
<line x1="633.1" y1="996.0" x2="638.4" y2="990.0" stroke="#535a80" stroke-width="1.7" />
<line x1="629.1" y1="992.4" x2="634.4" y2="986.4" stroke="#535a80" stroke-width="1.7" />
<line x1="618.9" y1="1018.3" x2="615.5" y2="1024.6" stroke="#535a80" stroke-width="1.4" />
<line x1="628.9" y1="1012.2" x2="636.2" y2="1023.4" stroke="#535a80" stroke-width="1.4" />
</g>
</svg>
</body></html>
